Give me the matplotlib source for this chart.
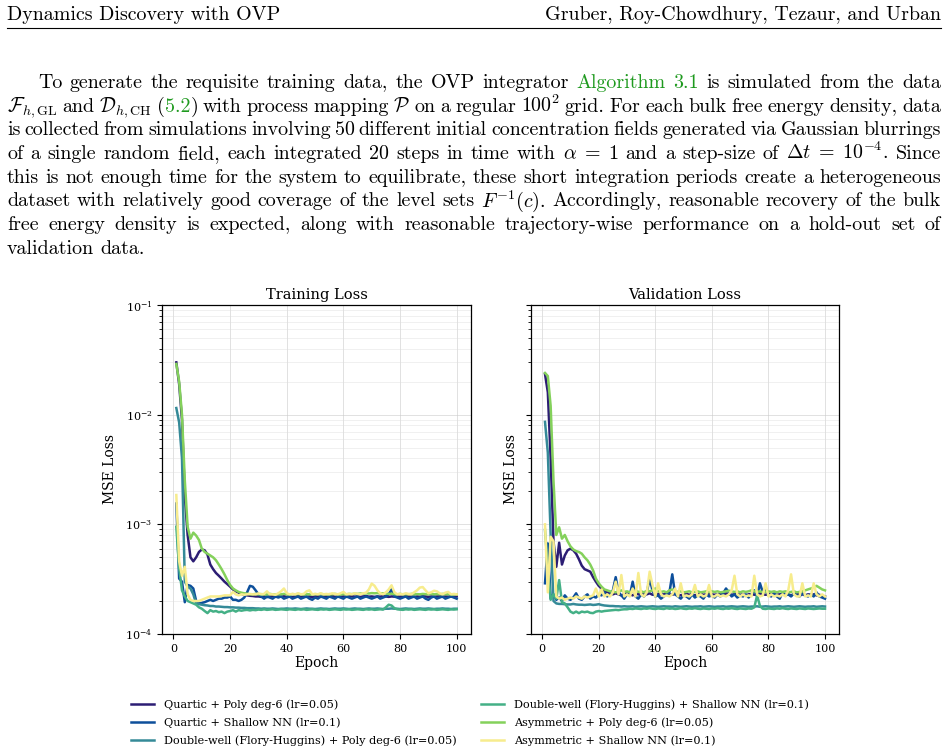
import matplotlib
matplotlib.use("Agg")
import matplotlib.pyplot as plt
from matplotlib.lines import Line2D
from matplotlib.ticker import LogLocator, NullFormatter
import numpy as np

# ---- data (MSE loss in units of 1e-4, epochs 1..100) ----
epochs = list(range(1, 101))

labels = [
    "Quartic + Poly deg-6 (lr=0.05)",
    "Quartic + Shallow NN (lr=0.1)",
    "Double-well (Flory-Huggins) + Poly deg-6 (lr=0.05)",
    "Double-well (Flory-Huggins) + Shallow NN (lr=0.1)",
    "Asymmetric + Poly deg-6 (lr=0.05)",
    "Asymmetric + Shallow NN (lr=0.1)",
]
colors = ["#2c1d74", "#0d4f9b", "#358a98", "#44b086", "#84d15b", "#f7ec8d"]

train_quartic_poly = [
    300, 190, 90, 18, 8.0, 5.0, 4.6, 5.0, 5.6, 5.9,
    5.8, 5.3, 4.3, 3.9, 3.6, 3.4, 3.2, 3.0, 2.85, 2.7,
    2.55, 2.45, 2.38, 2.32, 2.28, 2.25, 2.23, 2.22, 2.2, 2.2,
    2.18, 2.2, 2.17, 2.2, 2.22, 2.18, 2.2, 2.19, 2.21, 2.18,
    2.2, 2.17, 2.2, 2.22, 2.19, 2.2, 2.18, 2.2, 2.17, 2.2,
    2.21, 2.18, 2.2, 2.19, 2.2, 2.22, 2.18, 2.2, 2.19, 2.2,
    2.18, 2.2, 2.21, 2.19, 2.2, 2.18, 2.2, 2.22, 2.19, 2.2,
    2.18, 2.2, 2.19, 2.21, 2.2, 2.18, 2.2, 2.19, 2.2, 2.18,
    2.2, 2.21, 2.19, 2.2, 2.18, 2.2, 2.19, 2.21, 2.2, 2.18,
    2.2, 2.19, 2.2, 2.21, 2.18, 2.2, 2.19, 2.2, 2.18, 2.2]
train_quartic_nn = [
    15.5, 3.2, 3.0, 1.95, 2.8, 2.75, 2.6, 2.0, 1.9, 1.92,
    1.95, 2.0, 2.05, 2.0, 2.05, 2.1, 2.1, 2.15, 2.15, 2.2,
    2.05, 2.05, 2.0, 2.05, 2.15, 2.4, 2.75, 2.7, 2.5, 2.3,
    2.2, 2.1, 2.2, 2.15, 2.1, 2.2, 2.15, 2.2, 2.1, 2.15,
    2.2, 2.1, 2.15, 2.2, 2.1, 2.15, 2.2, 2.1, 2.05, 2.15,
    2.1, 2.2, 2.15, 2.1, 2.2, 2.15, 2.1, 2.2, 2.15, 2.1,
    2.2, 2.15, 2.1, 2.15, 2.2, 2.1, 2.15, 2.2, 2.15, 2.1,
    2.15, 2.2, 2.1, 2.15, 2.2, 2.3, 2.55, 2.2, 2.15, 2.1,
    2.15, 2.2, 2.1, 2.15, 2.2, 2.1, 2.15, 2.2, 2.1, 2.05,
    2.15, 2.2, 2.1, 2.15, 2.2, 2.1, 2.15, 2.2, 2.15, 2.1]
train_dw_poly = [
    115, 85, 40, 3.0, 2.7, 2.6, 2.3, 1.9, 1.87, 1.85,
    1.83, 1.82, 1.8, 1.8, 1.78, 1.78, 1.77, 1.76, 1.76, 1.75,
    1.75, 1.74, 1.74, 1.73, 1.73, 1.72, 1.72, 1.72, 1.71, 1.71,
    1.7, 1.71, 1.7, 1.7, 1.71, 1.7, 1.69, 1.7, 1.7, 1.71,
    1.7, 1.7, 1.71, 1.7, 1.69, 1.7, 1.71, 1.7, 1.7, 1.69,
    1.7, 1.71, 1.7, 1.7, 1.69, 1.7, 1.71, 1.7, 1.7, 1.71,
    1.7, 1.69, 1.7, 1.71, 1.7, 1.7, 1.69, 1.7, 1.71, 1.7,
    1.7, 1.71, 1.7, 1.69, 1.7, 1.7, 1.71, 1.7, 1.7, 1.69,
    1.7, 1.71, 1.7, 1.7, 1.69, 1.7, 1.71, 1.7, 1.7, 1.71,
    1.7, 1.69, 1.7, 1.7, 1.71, 1.7, 1.7, 1.69, 1.7, 1.7]
train_dw_nn = [
    9.5, 4.0, 2.5, 2.2, 2.0, 1.95, 1.9, 1.85, 1.75, 1.7,
    1.62, 1.55, 1.65, 1.6, 1.62, 1.58, 1.6, 1.55, 1.6, 1.62,
    1.65, 1.6, 1.65, 1.63, 1.65, 1.66, 1.64, 1.66, 1.65, 1.67,
    1.66, 1.68, 1.66, 1.67, 1.68, 1.66, 1.67, 1.68, 1.67, 1.66,
    1.68, 1.67, 1.66, 1.68, 1.67, 1.68, 1.66, 1.67, 1.68, 1.67,
    1.66, 1.68, 1.67, 1.68, 1.66, 1.67, 1.68, 1.67, 1.66, 1.68,
    1.67, 1.68, 1.66, 1.67, 1.68, 1.67, 1.66, 1.68, 1.67, 1.68,
    1.66, 1.67, 1.68, 1.67, 1.75, 1.85, 1.82, 1.72, 1.68, 1.67,
    1.66, 1.68, 1.67, 1.68, 1.66, 1.67, 1.68, 1.67, 1.66, 1.68,
    1.67, 1.68, 1.66, 1.67, 1.68, 1.67, 1.66, 1.68, 1.67, 1.68]
train_asym_poly = [
    290, 200, 100, 25, 9.5, 7.4, 8.4, 7.9, 7.2, 6.0,
    5.6, 5.4, 5.2, 5.0, 4.7, 4.3, 3.9, 3.5, 3.1, 2.8,
    2.6, 2.5, 2.42, 2.38, 2.35, 2.33, 2.3, 2.3, 2.32, 2.3,
    2.31, 2.29, 2.3, 2.32, 2.3, 2.29, 2.31, 2.3, 2.32, 2.3,
    2.29, 2.31, 2.3, 2.32, 2.3, 2.29, 2.31, 2.3, 2.29, 2.31,
    2.3, 2.32, 2.3, 2.29, 2.31, 2.3, 2.32, 2.3, 2.29, 2.31,
    2.3, 2.32, 2.31, 2.33, 2.32, 2.34, 2.33, 2.35, 2.34, 2.36,
    2.35, 2.36, 2.34, 2.35, 2.34, 2.32, 2.33, 2.31, 2.3, 2.32,
    2.3, 2.31, 2.3, 2.32, 2.3, 2.31, 2.3, 2.32, 2.31, 2.3,
    2.32, 2.3, 2.31, 2.3, 2.32, 2.3, 2.31, 2.3, 2.29, 2.3]
train_asym_nn = [
    18.5, 4.6, 3.4, 4.1, 2.3, 2.05, 2.0, 2.0, 2.0, 2.05,
    2.1, 2.15, 2.2, 2.2, 2.2, 2.2, 2.22, 2.25, 2.25, 2.25,
    2.42, 2.3, 2.25, 2.3, 2.28, 2.3, 2.32, 2.3, 2.3, 2.35,
    2.3, 2.32, 2.45, 2.3, 2.3, 2.28, 2.35, 2.45, 2.6, 2.35,
    2.3, 2.32, 2.3, 2.35, 2.3, 2.32, 2.45, 2.5, 2.3, 2.32,
    2.3, 2.35, 2.3, 2.32, 2.3, 2.35, 2.32, 2.3, 2.35, 2.42,
    2.3, 2.32, 2.3, 2.35, 2.32, 2.3, 2.35, 2.38, 2.55, 2.88,
    2.75, 2.5, 2.35, 2.3, 2.4, 2.55, 2.78, 2.4, 2.3, 2.32,
    2.3, 2.35, 2.32, 2.3, 2.4, 2.5, 2.65, 2.68, 2.5, 2.35,
    2.4, 2.48, 2.45, 2.35, 2.3, 2.38, 2.42, 2.3, 2.32, 2.3]

val_quartic_poly = [
    235, 160, 40, 7.0, 4.1, 6.8, 4.3, 5.2, 5.8, 6.0,
    5.8, 5.4, 4.8, 4.2, 3.9, 3.8, 3.7, 3.3, 3.0, 2.75,
    2.6, 2.45, 2.4, 2.35, 2.3, 2.35, 2.3, 2.25, 2.3, 2.35,
    2.3, 2.25, 2.35, 2.3, 2.28, 2.32, 2.3, 2.35, 2.28, 2.3,
    2.32, 2.28, 2.3, 2.35, 2.3, 2.28, 2.32, 2.3, 2.25, 2.3,
    2.32, 2.28, 2.3, 2.25, 2.3, 2.32, 2.28, 2.3, 2.35, 2.3,
    2.28, 2.3, 2.32, 2.28, 2.35, 2.3, 2.28, 2.3, 2.32, 2.28,
    2.3, 2.25, 2.3, 2.32, 2.28, 2.3, 2.35, 2.3, 2.28, 2.3,
    2.32, 2.3, 2.28, 2.3, 2.32, 2.28, 2.3, 2.25, 2.3, 2.32,
    2.28, 2.3, 2.25, 2.3, 2.28, 2.3, 2.25, 2.28, 2.22, 2.2]
val_quartic_nn = [
    2.9, 6.7, 2.1, 2.3, 2.05, 2.15, 2.0, 2.25, 2.1, 2.05,
    2.15, 2.35, 2.1, 2.05, 2.2, 2.3, 2.1, 2.2, 2.15, 2.3,
    2.25, 2.4, 2.2, 2.3, 2.5, 3.3, 2.4, 2.25, 2.1, 2.3,
    2.25, 3.0, 2.2, 2.1, 2.3, 2.2, 2.4, 3.2, 2.5, 2.2,
    2.25, 2.1, 2.2, 2.3, 2.4, 3.5, 2.3, 2.2, 2.1, 2.25,
    2.2, 2.1, 2.3, 2.15, 2.25, 2.2, 2.1, 2.3, 2.2, 2.25,
    2.15, 2.3, 2.2, 2.35, 2.6, 2.4, 2.2, 2.3, 2.15, 2.25,
    2.2, 2.3, 2.15, 2.3, 2.5, 2.2, 2.9, 2.4, 2.6, 2.25,
    2.2, 2.35, 2.2, 2.1, 2.4, 2.25, 2.3, 2.2, 2.35, 2.25,
    2.2, 2.35, 2.25, 2.2, 2.3, 2.2, 2.4, 2.2, 2.15, 2.1]
val_dw_poly = [
    86, 45, 8.0, 2.0, 1.9, 1.88, 1.88, 1.87, 1.86, 1.86,
    1.88, 1.86, 1.85, 1.85, 1.84, 1.85, 1.86, 1.84, 1.85, 1.87,
    1.84, 1.82, 1.81, 1.8, 1.8, 1.79, 1.79, 1.78, 1.79, 1.78,
    1.78, 1.79, 1.77, 1.78, 1.79, 1.78, 1.77, 1.78, 1.79, 1.78,
    1.77, 1.78, 1.79, 1.78, 1.78, 1.77, 1.79, 1.78, 1.77, 1.78,
    1.79, 1.78, 1.77, 1.78, 1.78, 1.79, 1.77, 1.78, 1.79, 1.78,
    1.77, 1.78, 1.78, 1.79, 1.77, 1.78, 1.79, 1.78, 1.77, 1.78,
    1.79, 1.78, 1.77, 1.78, 1.78, 1.79, 1.77, 1.78, 1.79, 1.78,
    1.77, 1.78, 1.78, 1.79, 1.77, 1.78, 1.79, 1.78, 1.77, 1.78,
    1.79, 1.78, 1.77, 1.78, 1.78, 1.79, 1.77, 1.78, 1.79, 1.78]
val_dw_nn = [
    8.9, 4.0, 2.05, 2.3, 2.1, 3.1, 1.95, 1.9, 1.75, 1.6,
    1.55, 1.6, 1.55, 1.6, 1.58, 1.6, 1.56, 1.55, 1.6, 1.62,
    1.6, 1.62, 1.63, 1.64, 1.65, 1.66, 1.65, 1.67, 1.68, 1.68,
    1.7, 1.69, 1.71, 1.7, 1.69, 1.71, 1.7, 1.72, 1.7, 1.69,
    1.71, 1.7, 1.69, 1.72, 1.7, 1.71, 1.69, 1.7, 1.72, 1.7,
    1.69, 1.71, 1.7, 1.72, 1.7, 1.69, 1.71, 1.7, 1.69, 1.71,
    1.7, 1.72, 1.7, 1.69, 1.71, 1.7, 1.72, 1.7, 1.69, 1.71,
    1.7, 1.69, 1.71, 1.7, 1.75, 2.25, 1.8, 1.7, 1.69, 1.71,
    1.7, 1.69, 1.71, 1.7, 1.72, 1.7, 1.69, 1.71, 1.7, 1.69,
    1.71, 1.7, 1.69, 1.71, 1.7, 1.69, 1.7, 1.71, 1.7, 1.7]
val_asym_poly = [
    240, 225, 120, 25, 8.0, 9.4, 7.4, 8.0, 7.0, 6.3,
    5.9, 5.7, 5.6, 5.4, 5.0, 4.7, 4.3, 3.8, 3.2, 2.9,
    2.7, 2.55, 2.5, 2.45, 2.42, 2.4, 2.45, 2.5, 2.42, 2.45,
    2.4, 2.45, 2.5, 2.42, 2.45, 2.4, 2.48, 2.45, 2.5, 2.6,
    2.45, 2.42, 2.45, 2.4, 2.5, 2.55, 2.45, 2.42, 2.45, 2.4,
    2.42, 2.45, 2.4, 2.42, 2.45, 2.4, 2.42, 2.45, 2.4, 2.45,
    2.42, 2.45, 2.4, 2.42, 2.45, 2.48, 2.45, 2.42, 2.45, 2.4,
    2.45, 2.42, 2.45, 2.5, 2.45, 2.42, 2.45, 2.4, 2.42, 2.45,
    2.42, 2.45, 2.4, 2.45, 2.42, 2.45, 2.4, 2.42, 2.45, 2.4,
    2.42, 2.45, 2.5, 2.55, 2.6, 2.65, 2.75, 2.65, 2.55, 2.5]
val_asym_nn = [
    10, 2.4, 7.7, 7.0, 2.2, 2.1, 2.15, 2.05, 2.1, 2.15,
    2.1, 2.2, 2.15, 2.1, 2.2, 2.15, 2.2, 2.25, 2.6, 2.2,
    2.55, 2.2, 2.3, 2.2, 2.4, 3.0, 2.3, 3.45, 2.2, 2.3,
    2.2, 2.6, 2.2, 3.6, 2.3, 2.2, 2.4, 3.7, 2.8, 2.2,
    2.9, 2.3, 2.2, 2.25, 2.2, 2.3, 2.6, 2.2, 2.9, 2.2,
    2.25, 2.2, 2.3, 2.8, 2.2, 2.3, 2.2, 2.25, 2.8, 2.2,
    2.2, 2.3, 2.2, 2.25, 2.2, 2.3, 2.5, 3.4, 2.3, 2.2,
    2.3, 2.2, 2.25, 2.2, 3.4, 2.3, 2.2, 2.25, 2.9, 2.2,
    2.3, 2.2, 2.25, 2.2, 2.3, 2.2, 2.5, 3.5, 2.3, 2.2,
    2.2, 2.9, 2.2, 2.25, 2.2, 2.9, 2.3, 2.2, 2.3, 2.2]

train_series = [train_quartic_poly, train_quartic_nn, train_dw_poly,
                train_dw_nn, train_asym_poly, train_asym_nn]
val_series = [val_quartic_poly, val_quartic_nn, val_dw_poly,
              val_dw_nn, val_asym_poly, val_asym_nn]

# ---- page text (|...| marks the green link text) ----
header_left = "Dynamics Discovery with OVP"
header_right = "Gruber, Roy-Chowdhury, Tezaur, and Urban"
GREEN = "#1f9a1f"
K = "black"
para_lines = [
    "To generate the requisite training data, the OVP integrator |Algorithm| |3.1| is simulated from the data",
    r"$\mathcal{F}_{h,\mathrm{GL}}$ and $\mathcal{D}_{h,\mathrm{CH}}$ (|5.2|) with process mapping $\mathcal{P}$ on a regular $100^2$ grid. For each bulk free energy density, data",
    "is collected from simulations involving 50 different initial concentration fields generated via Gaussian blurrings",
    r"of a single random field, each integrated 20 steps in time with $\alpha\;=\;1$ and a step-size of $\Delta{}t\;=\;10^{-4}$. Since",
    "this is not enough time for the system to equilibrate, these short integration periods create a heterogeneous",
    r"dataset with relatively good coverage of the level sets $F^{-1}(c)$. Accordingly, reasonable recovery of the bulk",
    "free energy density is expected, along with reasonable trajectory-wise performance on a hold-out set of",
    "validation data.",
]

W, H = 949, 752
plt.rcParams["font.family"] = "DejaVu Serif"
plt.rcParams["mathtext.fontset"] = "dejavuserif"

fig = plt.figure(figsize=(W / 100, H / 100), dpi=100)
renderer = fig.canvas.get_renderer()


def fx(x):
    return x / W


def fy(y):
    return 1 - y / H


FS = 14.4


def split_word(word):
    pieces = []
    for k, s in enumerate(word.split("|")):
        if s:
            pieces.append((s, GREEN if k % 2 else K))
    return pieces


def put_line(line, y, x0, x1, justify=True):
    words = []
    for w in line.split(" "):
        parts = []
        for s, c in split_word(w):
            t = fig.text(0, 0, s, color=c, fontsize=FS, family="cmr10",
                         math_fontfamily="cm", va="baseline", ha="left")
            parts.append((t, t.get_window_extent(renderer).width))
        words.append(parts)
    widths = [sum(p[1] for p in w) for w in words]
    if justify:
        gap = (x1 - x0 - sum(widths)) / (len(words) - 1)
    else:
        gap = 6.5
    x = x0
    for parts, wd in zip(words, widths):
        for t, w in parts:
            t.set_position((fx(x), fy(y)))
            x += w
        x += gap


fig.text(fx(7), fy(20), header_left, fontsize=FS, family="cmr10", va="baseline", ha="left")
fig.text(fx(941), fy(20), header_right, fontsize=FS, family="cmr10", va="baseline", ha="right")
fig.add_artist(Line2D([fx(7), fx(941)], [fy(27.5), fy(27.5)], color="black", lw=0.8))

base0, step = 88, 23.7
for i, line in enumerate(para_lines):
    x0 = 38 if i == 0 else 7
    put_line(line, base0 + i * step, x0, 941, justify=(i < len(para_lines) - 1))

# ---- the two loss panels ----
ax1 = fig.add_axes([fx(162.3), fy(634), (470.7 - 162.3) / W, (634 - 305) / H])
ax2 = fig.add_axes([fx(531), fy(634), (839 - 531) / W, (634 - 305) / H], sharey=ax1)

for ax, series, title in [(ax1, train_series, "Training Loss"),
                          (ax2, val_series, "Validation Loss")]:
    for vals, col, lab in zip(series, colors, labels):
        ax.plot(epochs, np.array(vals) * 1e-4, color=col, lw=1.8, label=lab)
    ax.set_yscale("log")
    ax.set_ylim(1e-4, 1e-1)
    ax.set_title(title, fontsize=10.5, pad=4)
    ax.set_xlabel("Epoch", fontsize=10, labelpad=2)
    ax.set_ylabel("MSE Loss", fontsize=10, labelpad=6)
    ax.set_xticks([0, 20, 40, 60, 80, 100])
    ax.yaxis.set_minor_locator(LogLocator(base=10, subs=np.arange(2, 10)))
    ax.yaxis.set_minor_formatter(NullFormatter())
    ax.tick_params(axis="both", which="major", labelsize=8, length=3.5, width=0.8)
    ax.tick_params(axis="y", which="minor", length=2, width=0.6)
    ax.grid(True, which="major", color="#cccccc", lw=0.7, alpha=0.6)
    ax.grid(True, which="minor", axis="y", color="#dddddd", lw=0.6, alpha=0.5)
    for sp in ax.spines.values():
        sp.set_linewidth(0.9)

ax2.tick_params(axis="y", which="both", labelleft=False)

handles, labs = ax1.get_legend_handles_labels()
fig.legend(handles, labs, loc="upper left", bbox_to_anchor=(fx(131), fy(699)),
           ncol=2, frameon=False, fontsize=8.1, borderpad=0, borderaxespad=0,
           handlelength=2.0, handletextpad=0.9, columnspacing=2.2,
           labelspacing=0.68)

fig.savefig("out.png", dpi=100)
